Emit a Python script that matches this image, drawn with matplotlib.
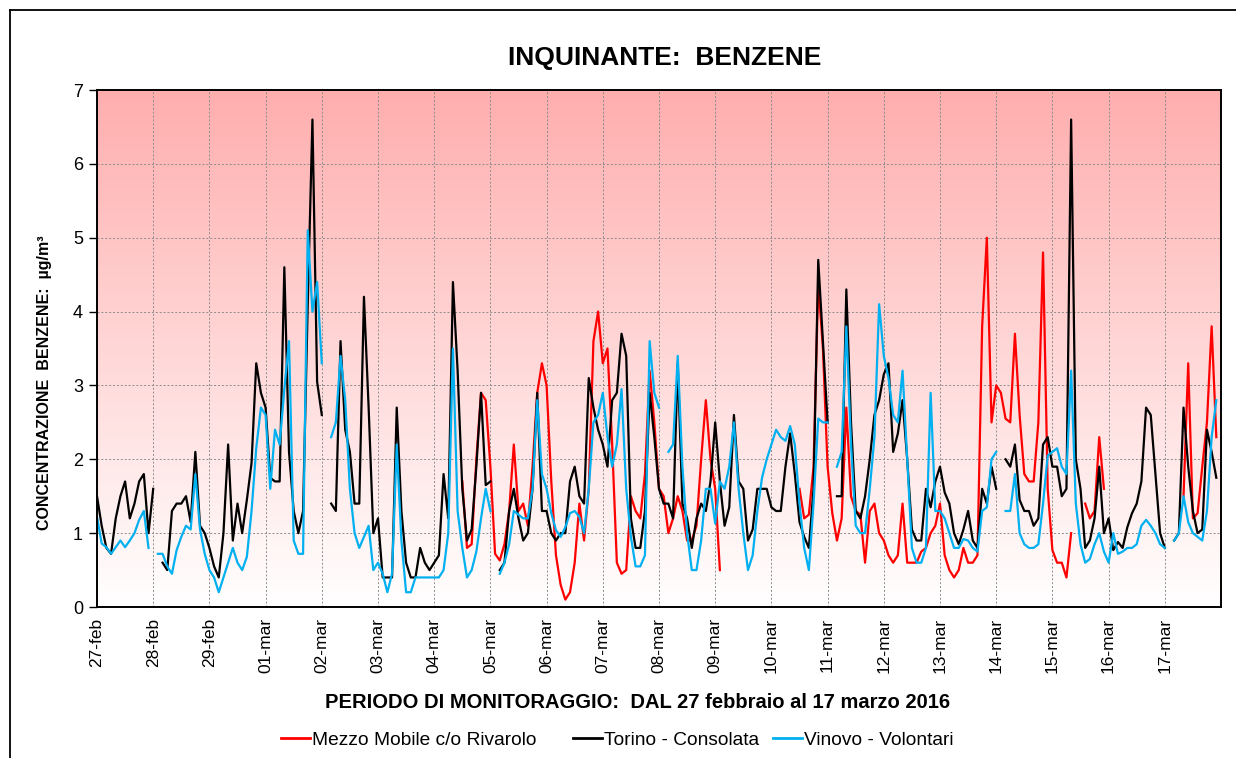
import numpy as np
import matplotlib
matplotlib.use("Agg")
import matplotlib.pyplot as plt
from matplotlib.colors import LinearSegmentedColormap
from matplotlib.lines import Line2D

nan = np.nan

# one value every 2 hours (00, 02, ... 22) for each day, 27-feb .. 17-mar 2016
day_labels = ["27-feb", "28-feb", "29-feb", "01-mar", "02-mar", "03-mar", "04-mar",
              "05-mar", "06-mar", "07-mar", "08-mar", "09-mar", "10-mar", "11-mar",
              "12-mar", "13-mar", "14-mar", "15-mar", "16-mar", "17-mar"]

rivarolo = [
    nan, nan, nan, nan, nan, nan, nan, nan, nan, nan, nan, nan,  # 27-feb
    nan, nan, nan, nan, nan, nan, nan, nan, nan, nan, nan, nan,  # 28-feb
    nan, nan, nan, nan, nan, nan, nan, nan, nan, nan, nan, nan,  # 29-feb
    nan, nan, nan, nan, nan, nan, nan, nan, nan, nan, nan, nan,  # 01-mar
    nan, nan, nan, nan, nan, nan, nan, nan, nan, nan, nan, nan,  # 02-mar
    nan, nan, nan, nan, nan, nan, nan, nan, nan, nan, nan, nan,  # 03-mar
    nan, nan, nan, nan, nan, nan, 1.7, 0.8, 0.85, 2.0, 2.9, 2.8,  # 04-mar
    1.9, 0.72, 0.63, 0.85, 1.3, 2.2, 1.3, 1.4, 1.1, 1.9, 2.9, 3.3,  # 05-mar
    3.0, 1.7, 0.7, 0.3, 0.1, 0.2, 0.6, 1.4, 0.9, 1.6, 3.6, 4.0,  # 06-mar
    3.3, 3.5, 2.2, 0.6, 0.45, 0.5, 1.5, 1.3, 1.2, 1.8, 3.2, 2.5,  # 07-mar
    1.6, 1.5, 1.0, 1.2, 1.5, 1.3, 0.9, 0.9, 1.1, 2.0, 2.8, 2.0,  # 08-mar
    1.6, 0.5, nan, nan, nan, nan, nan, nan, nan, nan, nan, nan,  # 09-mar
    nan, nan, nan, nan, nan, nan, 1.6, 1.2, 1.25, 1.9, 4.4, 3.5,  # 10-mar
    1.9, 1.27, 0.9, 1.2, 2.7, 1.5, 1.3, 1.25, 0.6, 1.3, 1.4, 1.0,  # 11-mar
    0.9, 0.7, 0.6, 0.7, 1.4, 0.6, 0.6, 0.6, 0.75, 0.8, 1.0, 1.1,  # 12-mar
    1.4, 0.7, 0.5, 0.4, 0.5, 0.8, 0.6, 0.6, 0.7, 3.8, 5.0, 2.5,  # 13-mar
    3.0, 2.9, 2.55, 2.5, 3.7, 2.6, 1.8, 1.7, 1.7, 2.5, 4.8, 1.6,  # 14-mar
    0.77, 0.6, 0.6, 0.4, 1.0, nan, nan, 1.4, 1.2, 1.3, 2.3, 1.6,  # 15-mar
    nan, nan, nan, nan, nan, nan, nan, nan, nan, nan, nan, nan,  # 16-mar
    nan, nan, nan, nan, 1.5, 3.3, 1.2, 1.27, 1.9, 2.5, 3.8, 2.3,  # 17-mar
]

consolata = [
    1.5, 1.1, 0.8, 0.72, 1.2, 1.5, 1.7, 1.2, 1.4, 1.7, 1.8, 1.0,  # 27-feb
    1.6, nan, 0.6, 0.5, 1.3, 1.4, 1.4, 1.5, 1.15, 2.1, 1.1, 1.0,  # 28-feb
    0.8, 0.55, 0.4, 1.0, 2.2, 0.9, 1.4, 1.0, 1.45, 1.95, 3.3, 2.9,  # 29-feb
    2.7, 1.75, 1.7, 1.7, 4.6, 2.1, 1.3, 1.0, 1.3, 4.1, 6.6, 3.05,  # 01-mar
    2.6, nan, 1.4, 1.3, 3.6, 2.4, 2.1, 1.4, 1.4, 4.2, 2.7, 1.0,  # 02-mar
    1.2, 0.4, 0.4, 0.4, 2.7, 1.3, 0.6, 0.4, 0.4, 0.8, 0.6, 0.5,  # 03-mar
    0.6, 0.7, 1.8, 1.2, 4.4, 3.2, 1.6, 0.9, 1.05, 1.9, 2.9, 1.65,  # 04-mar
    1.7, nan, 0.5, 0.6, 1.3, 1.6, 1.2, 0.9, 1.0, 1.6, 2.9, 1.3,  # 05-mar
    1.3, 1.0, 0.9, 1.0, 1.0, 1.7, 1.9, 1.5, 1.4, 3.1, 2.7, 2.4,  # 06-mar
    2.2, 1.9, 2.8, 2.9, 3.7, 3.4, 1.2, 0.8, 0.8, 1.3, 2.9, 2.3,  # 07-mar
    1.6, 1.4, 1.4, 1.2, 3.3, 1.4, 1.2, 0.8, 1.2, 1.4, 1.3, 1.7,  # 08-mar
    2.5, 1.7, 1.1, 1.35, 2.6, 1.7, 1.6, 0.9, 1.05, 1.6, 1.6, 1.6,  # 09-mar
    1.35, 1.3, 1.3, 1.9, 2.35, 1.8, 1.15, 0.95, 0.8, 1.6, 4.7, 3.6,  # 10-mar
    2.5, nan, 1.5, 1.5, 4.3, 2.5, 1.3, 1.2, 1.5, 2.0, 2.6, 2.8,  # 11-mar
    3.15, 3.3, 2.1, 2.35, 2.8, 2.0, 1.05, 0.9, 0.9, 1.6, 1.35, 1.7,  # 12-mar
    1.9, 1.55, 1.4, 1.0, 0.85, 1.05, 1.3, 0.9, 0.8, 1.6, 1.4, 1.9,  # 13-mar
    1.6, nan, 2.0, 1.9, 2.2, 1.45, 1.3, 1.3, 1.1, 1.2, 2.2, 2.3,  # 14-mar
    1.9, 1.9, 1.5, 1.6, 6.6, 2.0, 1.6, 0.8, 0.9, 1.2, 1.9, 1.0,  # 15-mar
    1.2, 0.77, 0.88, 0.8, 1.08, 1.27, 1.4, 1.7, 2.7, 2.6, 1.8, 1.0,  # 16-mar
    0.8, nan, 0.9, 1.0, 2.7, 1.9, 1.3, 1.0, 1.05, 2.4, 2.1, 1.75,  # 17-mar
]

volontari = [
    1.22, 0.86, 0.81, 0.72, 0.81, 0.9, 0.81, 0.9, 1.0, 1.18, 1.3, 0.8,  # 27-feb
    nan, 0.72, 0.72, 0.55, 0.45, 0.77, 0.95, 1.1, 1.05, 1.8, 1.05, 0.72,  # 28-feb
    0.5, 0.4, 0.2, 0.4, 0.6, 0.8, 0.6, 0.5, 0.68, 1.3, 2.15, 2.7,  # 29-feb
    2.6, 1.6, 2.4, 2.2, 2.95, 3.6, 0.9, 0.72, 0.72, 5.1, 4.0, 4.4,  # 01-mar
    3.3, nan, 2.3, 2.5, 3.4, 2.8, 1.6, 1.0, 0.8, 0.95, 1.1, 0.5,  # 02-mar
    0.6, 0.45, 0.2, 0.45, 2.2, 0.9, 0.2, 0.2, 0.4, 0.4, 0.4, 0.4,  # 03-mar
    0.4, 0.4, 0.5, 1.0, 3.5, 1.3, 0.8, 0.4, 0.5, 0.75, 1.2, 1.6,  # 04-mar
    1.3, nan, 0.45, 0.6, 0.85, 1.3, 1.25, 1.2, 1.2, 1.6, 2.8, 1.8,  # 05-mar
    1.6, 1.27, 1.04, 0.95, 1.08, 1.27, 1.3, 1.22, 1.0, 1.6, 2.5, 2.6,  # 06-mar
    2.9, 2.3, 1.9, 2.2, 2.95, 1.6, 0.95, 0.55, 0.55, 0.7, 3.6, 2.9,  # 07-mar
    2.7, nan, 2.1, 2.2, 3.4, 1.9, 1.0, 0.5, 0.5, 0.9, 1.6, 1.6,  # 08-mar
    1.13, 1.7, 1.6, 1.9, 2.5, 1.6, 1.0, 0.5, 0.7, 1.3, 1.75, 2.0,  # 09-mar
    2.2, 2.4, 2.3, 2.25, 2.45, 2.2, 1.4, 0.8, 0.5, 1.4, 2.55, 2.5,  # 10-mar
    2.5, nan, 1.9, 2.1, 3.8, 2.2, 1.1, 1.0, 1.0, 1.6, 2.3, 4.1,  # 11-mar
    3.4, 3.1, 2.6, 2.5, 3.2, 2.0, 0.8, 0.6, 0.6, 0.8, 2.9, 1.3,  # 12-mar
    1.3, 1.2, 1.0, 0.8, 0.8, 0.92, 0.9, 0.8, 0.75, 1.3, 1.35, 2.0,  # 13-mar
    2.1, nan, 1.3, 1.3, 1.8, 1.0, 0.85, 0.8, 0.8, 0.85, 1.4, 2.05,  # 14-mar
    2.1, 2.15, 1.9, 1.8, 3.2, 1.4, 0.85, 0.6, 0.65, 0.85, 1.0, 0.75,  # 15-mar
    0.6, 1.0, 0.72, 0.75, 0.8, 0.8, 0.85, 1.1, 1.18, 1.1, 1.0, 0.85,  # 16-mar
    0.8, nan, 0.9, 1.0, 1.5, 1.15, 1.0, 0.95, 0.9, 1.3, 2.3, 2.8,  # 17-mar
]

series = [
    ("Mezzo Mobile c/o Rivarolo", rivarolo, "#FF0000"),
    ("Torino - Consolata", consolata, "#000000"),
    ("Vinovo - Volontari", volontari, "#00B0F0"),
]

plt.rcParams["font.family"] = ["Liberation Sans", "DejaVu Sans"]

W, H = 1236, 758
fig = plt.figure(figsize=(W / 100, H / 100), dpi=100)
ax = fig.add_axes([97 / W, 1 - 607 / H, (1221 - 97) / W, (607 - 90) / H])

# pink gradient background (white at 0, light red at the top)
cmap = LinearSegmentedColormap.from_list("bg", ["#FFFFFF", "#FFAEAE"])
grad = np.linspace(0, 1, 256).reshape(-1, 1)
ax.imshow(grad, cmap=cmap, aspect="auto", origin="lower",
          extent=[0, len(day_labels), 0, 7], zorder=0)

hours = np.arange(len(consolata)) * 2
x = hours / 24.0
for label, values, color in series:
    ax.plot(x, values, color=color, lw=1.6, label=label, zorder=3)

ax.set_xlim(0, len(day_labels))
ax.set_ylim(0, 7)
ax.set_yticks(range(8))
ax.set_xticks(range(len(day_labels)))
ax.set_xticklabels(day_labels, rotation=90, fontsize=12.5)
ax.tick_params(axis="y", labelsize=13, direction="out", length=6, width=1, pad=4)
ax.tick_params(axis="x", direction="out", length=0, pad=8)
ax.grid(True, color="#8C8C8C", linestyle=(0, (2, 2)), linewidth=0.7, zorder=1)
ax.set_axisbelow(False)
for s in ax.spines.values():
    s.set_linewidth(1.4)
    s.set_zorder(4)

fig.text(665 / W, 1 - 58 / H, "INQUINANTE:  BENZENE", fontsize=19, fontweight="bold",
         ha="center", va="center")
fig.text(45 / W, 1 - 383 / H, "CONCENTRAZIONE  BENZENE:  µg/m³", fontsize=11.5,
         fontweight="bold", rotation=90, ha="center", va="center")
fig.text(638 / W, 1 - 702 / H, "PERIODO DI MONITORAGGIO:  DAL 27 febbraio al 17 marzo 2016",
         fontsize=14.5, fontweight="bold", ha="center", va="center")

# legend entries placed one by one, as in the original layout
legend_x = [281, 573, 773]
for (label, values, color), lx in zip(series, legend_x):
    fig.legend(handles=[Line2D([], [], color=color, lw=2)], labels=[label],
               loc="center left", bbox_to_anchor=(lx / W, 1 - 740 / H), frameon=False,
               fontsize=13.8, handlelength=1.5, handletextpad=0.1, borderpad=0,
               borderaxespad=0)

# outer chart frame (top and left edges visible in the original)
fig.add_artist(Line2D([10 / W, 1.0], [1 - 10 / H, 1 - 10 / H],
                      transform=fig.transFigure, color="black", lw=1.3))
fig.add_artist(Line2D([10 / W, 10 / W], [0.0, 1 - 10 / H],
                      transform=fig.transFigure, color="black", lw=1.3))

fig.savefig("out.png", dpi=100)
